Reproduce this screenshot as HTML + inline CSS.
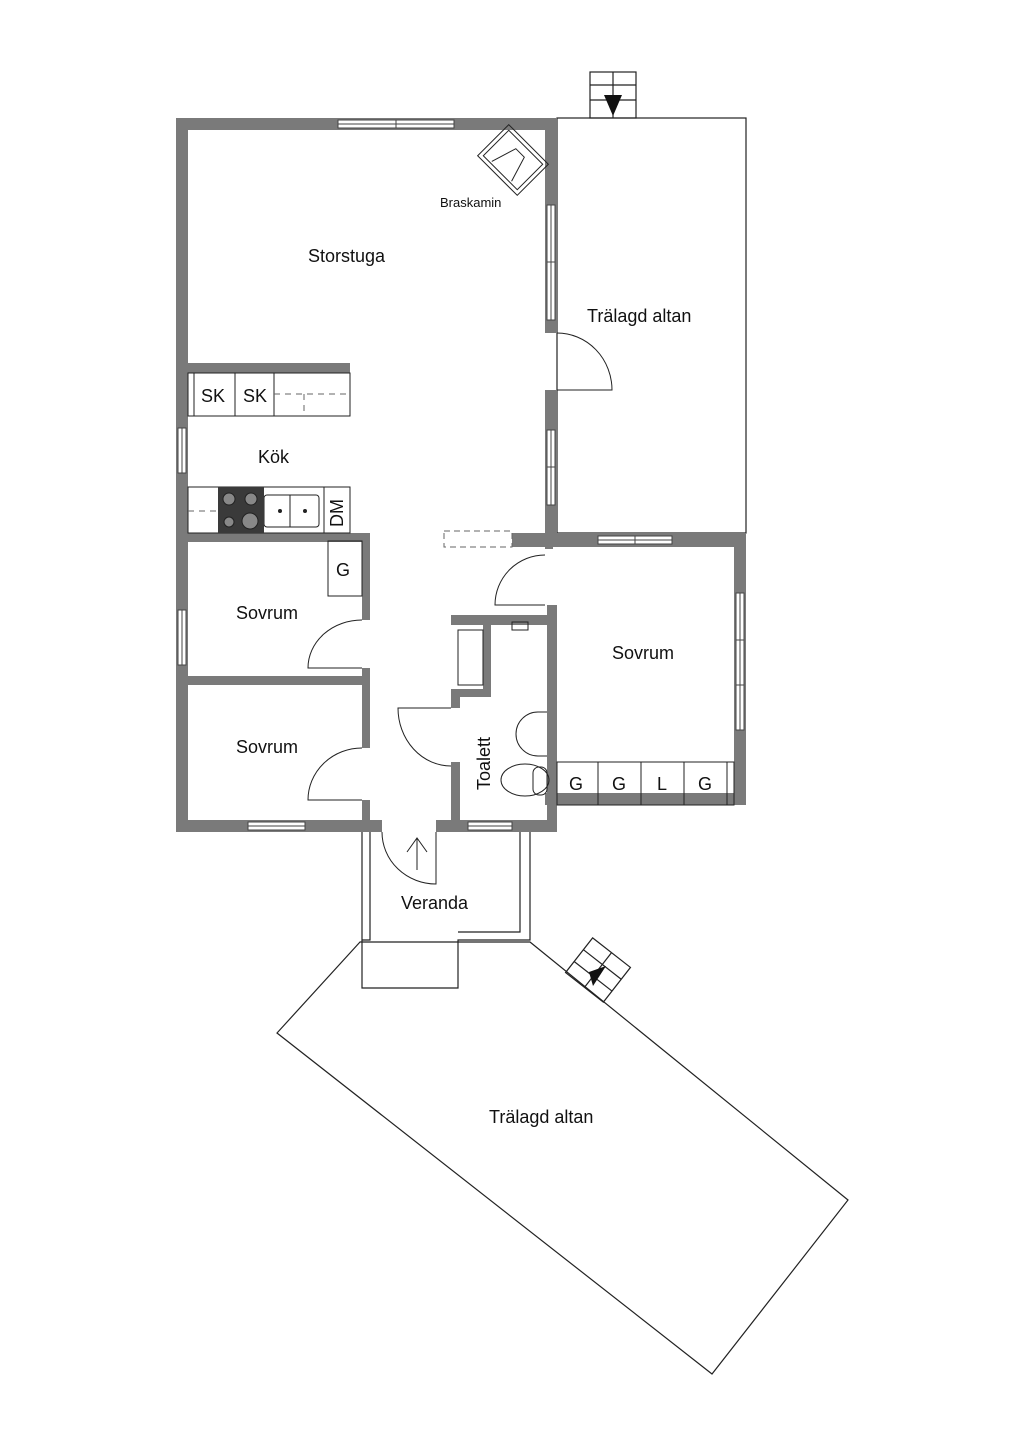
<!DOCTYPE html>
<html><head><meta charset="utf-8"><style>
html,body{margin:0;padding:0;background:#fff;}
svg{display:block}
text{font-family:"Liberation Sans",sans-serif;fill:#111}
</style></head><body>
<svg width="1024" height="1448" viewBox="0 0 1024 1448" xmlns="http://www.w3.org/2000/svg">
<g fill="none" stroke="#222" stroke-width="1.2">
 <rect x="557" y="118" width="189" height="415"/>
 <rect x="590" y="72" width="46" height="46"/>
 <line x1="590" y1="85" x2="636" y2="85"/><line x1="590" y1="100" x2="636" y2="100"/><line x1="613" y1="72" x2="613" y2="118"/>
 <polyline points="362,832 362,940 370,940 370,832"/>
 <polyline points="530,832 530,940 458,940 458,988 362,988 362,940"/>
 <polyline points="520,832 520,932 458,932"/>
 <polygon points="360,942 277,1033 712,1374 848,1200 530,942"/>
 <g transform="translate(598,970) rotate(38)">
  <rect x="-24" y="-22" width="48" height="44"/>
  <line x1="-24" y1="-7" x2="24" y2="-7"/><line x1="-24" y1="8" x2="24" y2="8"/><line x1="0" y1="-22" x2="0" y2="22"/>
 </g>
</g>
<polygon points="604,95 622,95 613,116" fill="#111"/>
<polygon points="589,972 606,966 593,986" fill="#111"/>

<g fill="#7a7a7a">
 <rect x="176" y="118" width="381" height="12"/>
 <rect x="176" y="118" width="12" height="714"/>
 <rect x="545" y="118" width="12" height="215"/>
 <rect x="545" y="390" width="12" height="157"/>
 <rect x="188" y="363" width="162" height="10"/>
 <rect x="176" y="533" width="194" height="9"/>
 <rect x="362" y="533" width="8" height="87"/>
 <rect x="362" y="668" width="8" height="80"/>
 <rect x="362" y="800" width="8" height="32"/>
 <rect x="176" y="676" width="194" height="9"/>
 <rect x="176" y="820" width="206" height="12"/>
 <rect x="436" y="820" width="121" height="12"/>
 <rect x="512" y="533" width="234" height="14"/>
 <rect x="734" y="533" width="12" height="272"/>
 <rect x="545" y="793" width="201" height="12"/>
 <rect x="547" y="605" width="10" height="227"/>
 <rect x="545" y="541" width="8" height="8"/>
 <rect x="451" y="615" width="106" height="10"/>
 <rect x="483" y="615" width="8" height="82"/>
 <rect x="451" y="689" width="40" height="8"/>
 <rect x="451" y="689" width="9" height="19"/>
 <rect x="451" y="762" width="9" height="70"/>
</g>
<g fill="#fff" stroke="#444" stroke-width="1">
 <rect x="338" y="120" width="116" height="8"/><line x1="396" y1="120" x2="396" y2="128"/><line x1="338" y1="124" x2="454" y2="124"/>
 <rect x="547" y="205" width="8" height="115"/><line x1="551" y1="205" x2="551" y2="320"/><line x1="547" y1="262" x2="555" y2="262"/>
 <rect x="547" y="430" width="8" height="75"/><line x1="551" y1="430" x2="551" y2="505"/><line x1="547" y1="467" x2="555" y2="467"/>
 <rect x="178" y="428" width="8" height="45"/><line x1="182" y1="428" x2="182" y2="473"/>
 <rect x="178" y="610" width="8" height="55"/><line x1="182" y1="610" x2="182" y2="665"/>
 <rect x="248" y="822" width="57" height="8"/><line x1="248" y1="826" x2="305" y2="826"/>
 <rect x="468" y="822" width="44" height="8"/><line x1="468" y1="826" x2="512" y2="826"/>
 <rect x="598" y="536" width="74" height="8"/><line x1="598" y1="540" x2="672" y2="540"/><line x1="635" y1="536" x2="635" y2="544"/>
 <rect x="736" y="593" width="8" height="137"/><line x1="740" y1="593" x2="740" y2="730"/><line x1="736" y1="640" x2="744" y2="640"/><line x1="736" y1="685" x2="744" y2="685"/>
</g>
<g fill="none" stroke="#222" stroke-width="1">
 <rect x="188" y="373" width="162" height="43"/>
 <line x1="194" y1="373" x2="194" y2="416"/><line x1="235" y1="373" x2="235" y2="416"/><line x1="274" y1="373" x2="274" y2="416"/>
 <path d="M274 394 H348 M304 394 V416" stroke-dasharray="6,5" stroke="#666"/>
 <rect x="188" y="487" width="162" height="46"/>
 <path d="M188 511 H218" stroke-dasharray="6,5" stroke="#666"/>
 <rect x="264" y="495" width="55" height="32" rx="3"/>
 <line x1="290" y1="495" x2="290" y2="527"/>
 <line x1="324" y1="487" x2="324" y2="533"/>
 <rect x="328" y="541" width="34" height="55"/>
 <path d="M557 333 A55 57 0 0 1 612 390 H557"/>
 <path d="M362 620 A54 48 0 0 0 308 668 H362"/>
 <path d="M362 748 A54 52 0 0 0 308 800 H362"/>
 <path d="M545 555 A50 50 0 0 0 495 605 H545"/>
 <path d="M451 766 A53 58 0 0 1 398 708 H451"/>
 <path d="M382 832 A54 52 0 0 0 436 884 V832"/>
 <path d="M407 852 L417 838 L427 852 M417 838 V870"/>
 <rect x="444" y="531" width="68" height="16" stroke-dasharray="6,4" stroke="#666"/>
 <rect x="458" y="630" width="25" height="55"/>
 <path d="M547 712 H538 A22 22 0 1 0 538 756 H547"/>
 <ellipse cx="525" cy="780" rx="24" ry="16"/>
 <rect x="533" y="767" width="14" height="28" rx="6"/>
 <rect x="512" y="622" width="16" height="8"/>
 <rect x="557" y="762" width="177" height="43"/>
 <line x1="598" y1="762" x2="598" y2="805"/><line x1="641" y1="762" x2="641" y2="805"/><line x1="684" y1="762" x2="684" y2="805"/><line x1="727" y1="762" x2="727" y2="805"/>
 <g transform="translate(513,160) rotate(45)">
  <rect x="-28" y="-22" width="56" height="44"/><rect x="-24" y="-18" width="48" height="36"/>
  <path d="M-14 16 L-6 -10 H6 L14 16"/>
 </g>
</g>
<rect x="218" y="487" width="46" height="46" fill="#3a3a3a"/>
<g fill="#888" stroke="#222"><circle cx="229" cy="499" r="6"/><circle cx="251" cy="499" r="6"/><circle cx="229" cy="522" r="5"/><circle cx="250" cy="521" r="8"/></g>
<g fill="#222"><circle cx="280" cy="511" r="2"/><circle cx="305" cy="511" r="2"/></g>
<g font-size="18">
 <text x="308" y="262">Storstuga</text>
 <text x="587" y="322">Trälagd altan</text>
 <text x="258" y="463">Kök</text>
 <text x="236" y="619">Sovrum</text>
 <text x="236" y="753">Sovrum</text>
 <text x="612" y="659">Sovrum</text>
 <text x="401" y="909">Veranda</text>
 <text x="489" y="1123">Trälagd altan</text>
 <text x="201" y="402">SK</text><text x="243" y="402">SK</text>
 <text x="336" y="576">G</text>
 <text x="569" y="790">G</text><text x="612" y="790">G</text><text x="657" y="790">L</text><text x="698" y="790">G</text>
 <text transform="translate(343,527) rotate(-90)">DM</text>
 <text transform="translate(490,790) rotate(-90)">Toalett</text>
</g>
<text x="440" y="207" font-size="13">Braskamin</text>
</svg>
</body></html>
